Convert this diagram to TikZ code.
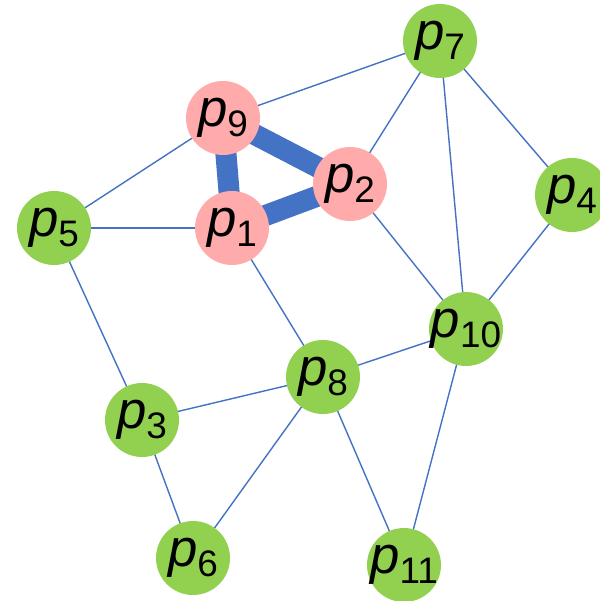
\documentclass[tikz,border=0pt]{standalone}
\usepackage{fontspec}
\setmainfont{Liberation Sans}
\usetikzlibrary{backgrounds}
\definecolor{leaf}{RGB}{146,208,80}
\definecolor{rose}{RGB}{255,171,171}
\definecolor{wire}{RGB}{68,114,196}
\newcommand{\plab}[1]{\textit{p}\raisebox{-0.2cm}{\fontsize{21}{21}\selectfont #1}}
\tikzset{
  vert/.style={circle,minimum size=1.48cm,inner sep=0pt},
  leafnode/.style={vert,fill=leaf},
  rosenode/.style={vert,fill=rose},
  every label/.style={inner sep=0pt,font=\fontsize{30}{30}\selectfont},
  link/.style={draw=wire,line width=0.8pt},
  bond/.style={draw=wire,line width=12pt},
}
\begin{document}
\begin{tikzpicture}[x=0.02cm,y=-0.02cm]
\useasboundingbox (0,0) rectangle (599,601);
% points
\foreach \n/\x/\y in {7/440/41,4/572/195,5/54/228,10/466/329,8/323/377,
  3/142/420,6/193/558,11/404/565}{
  \node[leafnode,label={center:\plab{\n}}] (p\n) at (\x,\y) {};}
\foreach \n/\x/\y in {9/223/118,1/232/228,2/350/184}{
  \node[rosenode,label={center:\plab{\n}}] (p\n) at (\x,\y) {};}
% connections
\begin{scope}[on background layer]
\foreach \a/\b in {9/7,7/2,7/10,7/4,9/5,5/1,5/3,2/10,1/8,4/10,
  10/8,10/11,8/3,8/6,8/11,3/6}{
  \draw[link] (p\a.center) -- (p\b.center);}
\foreach \a/\b in {9/1,9/2,1/2}{
  \draw[bond] (p\a.center) -- (p\b.center);}
\end{scope}
\end{tikzpicture}
\end{document}
